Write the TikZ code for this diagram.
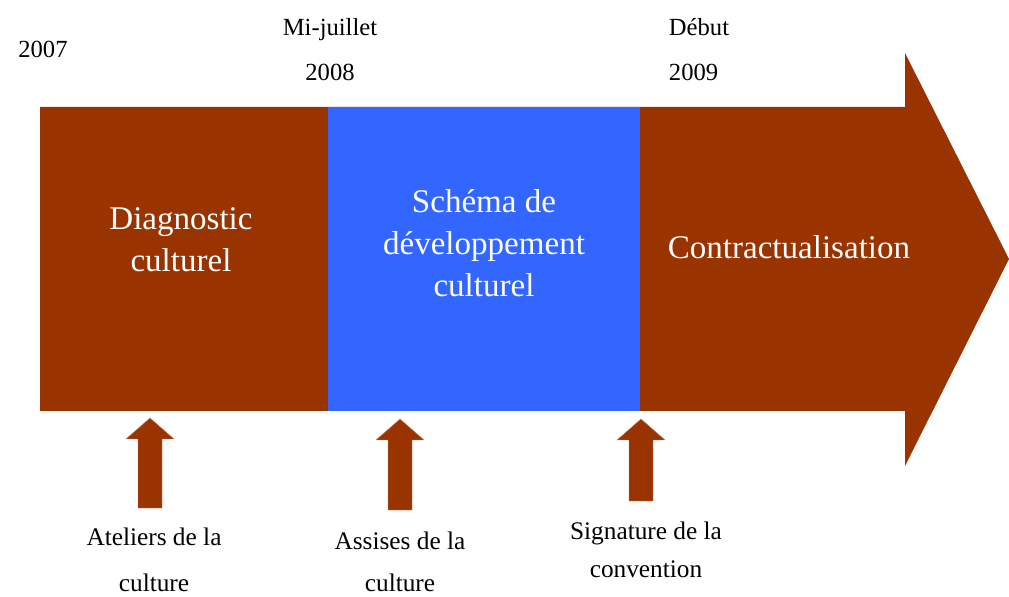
\documentclass[tikz,border=0pt]{standalone}
\usepackage{fontspec}
\setmainfont{Liberation Serif}
\usepackage{xcolor}
\usepackage{tikz}
\definecolor{rust}{HTML}{993300}
\definecolor{azure}{HTML}{3366FF}
\tikzset{
  band/.style={fill=rust, draw=none},
  phase/.style={fill=azure, draw=none},
  uparrow/.style={fill=rust, draw=rust!60, line width=0.3pt},
  inlbl/.style={text=white, font=\fontsize{23.5}{30}\selectfont, align=center},
  datelbl/.style={text=black, font=\fontsize{17.5}{32}\selectfont, align=center},
  evlbl/.style={text=black, font=\fontsize{18}{33}\selectfont, align=center}
}

\begin{document}
\begin{tikzpicture}[x=0.025cm, y=-0.025cm]
  \useasboundingbox (0,0) rectangle (1009,597);

  % main timeline arrow
  \fill[band] (40,107) -- (905,107) -- (905,53) -- (1009,259)
    -- (905,466) -- (905,411) -- (40,411) -- cycle;
  \fill[phase] (328,107) rectangle (640,411);

  % phases
  \node[inlbl] (diag) at (181,240) {Diagnostic\\culturel};
  \node[inlbl] (schema) at (484,243) {Schéma de\\développement\\culturel};
  \node[inlbl] (contrat) at (789,247) {Contractualisation};

  % dates
  \node[datelbl] (d2007) at (43,49) {2007};
  \node[datelbl] (d2008) at (330,50) {Mi-juillet\\2008};
  \node[datelbl, align=left, anchor=west] (d2009) at (664,50) {Début\\2009};

  % events
  \foreach \cx/\ty/\by in {150/418/508, 400/419/510, 641/419/501}
    \draw[uparrow] (\cx-12,\by) -- (\cx-12,\ty+21) -- (\cx-24,\ty+21) -- (\cx,\ty)
      -- (\cx+24,\ty+21) -- (\cx+12,\ty+21) -- (\cx+12,\by) -- cycle;

  \node[evlbl] (ateliers) at (154,560) {Ateliers de la\\culture};
  \node[evlbl, font=\fontsize{18}{30}\selectfont] (assises) at (400,562) {Assises de la\\culture};
  \node[evlbl, font=\fontsize{18}{27}\selectfont] (signature) at (646,550) {Signature de la\\convention};
\end{tikzpicture}
\end{document}
